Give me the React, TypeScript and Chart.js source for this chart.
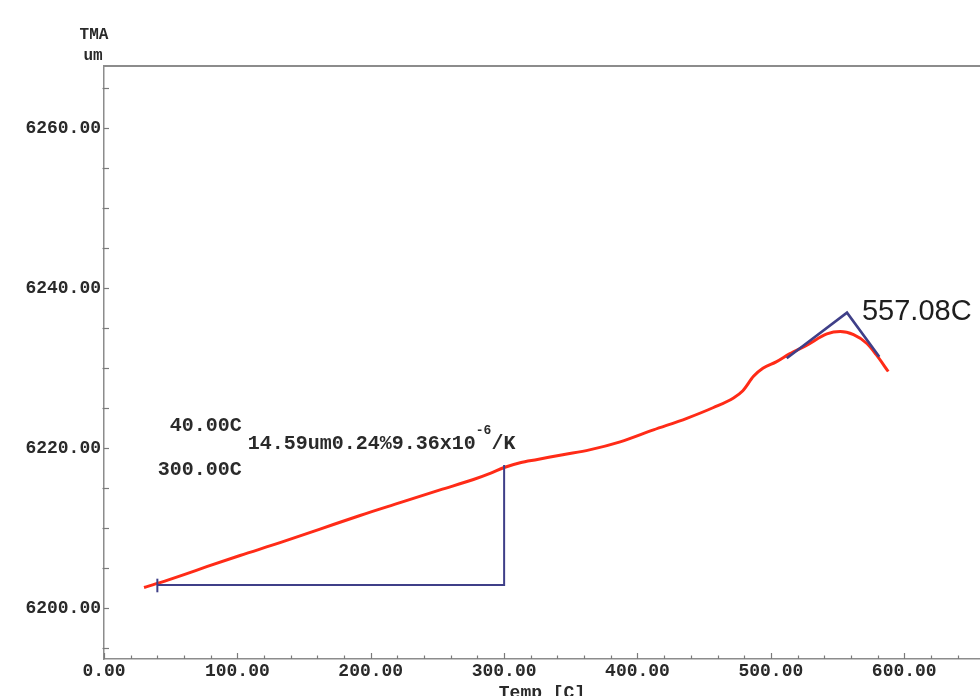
import React, { useEffect, useRef } from 'react';
import { Chart, registerables } from 'chart.js';

Chart.register(...registerables);

// ---- data ----
const tempC = [30, 42, 60, 77, 102, 132, 162, 192, 222, 252, 277, 290, 300, 312, 325, 344, 364, 387, 412, 437, 457, 472, 479, 487, 494, 504, 514, 527, 542, 552, 562, 572, 579, 588];
const tmaUm = [6202.6, 6203.2, 6204.2, 6205.2, 6206.6, 6208.2, 6209.9, 6211.6, 6213.2, 6214.8, 6216.1, 6216.9, 6217.6, 6218.2, 6218.6, 6219.2, 6219.8, 6220.8, 6222.3, 6223.75, 6225.1, 6226.3, 6227.2, 6229.0, 6230.0, 6230.8, 6231.8, 6232.9, 6234.3, 6234.6, 6234.2, 6233.1, 6231.7, 6229.6];

const xTickValues = [0, 100, 200, 300, 400, 500, 600];
const yTickValues = [6200, 6220, 6240, 6260];
const xMinorStep = 20;
const yMinorStep = 5;
const X_MIN = 0;
const X_MAX = 656.8;
const Y_MIN = 6193.66;
const Y_MAX = 6267.79;

// analysis range (40 C .. 300 C)
const rangeLineT = [40, 300, 300];
const rangeLineV = [6202.9, 6202.9, 6217.9];
const startMarkT = [40, 40];
const startMarkV = [6202.0, 6203.7];

// onset tangents (557.08 C)
const onsetT = [511.9, 557.08, 581.3];
const onsetV = [6231.25, 6236.95, 6231.45];

// annotation texts (anchored in data units)
const rangeLabels = ['40.00C', '300.00C'];
const rangeLabelT = [49.3, 40.3];
const rangeLabelV = [6222.85, 6217.35];
const resultParts = ['14.59um0.24%9.36x10', '-6', '/K'];
const resultT = 107.8;
const resultV = 6220.6;
const peakLabel = '557.08C';
const peakLabelT = 568.3;
const peakLabelV = 6237.0;

const MONO = "'Liberation Mono', 'DejaVu Sans Mono', monospace";
const AXIS_COLOR = '#8c8c8c';
const TEXT_COLOR = '#2a2a2a';
const BLUE = '#3f3f88';
const RED = '#ff2b17';

const pts = (xs: number[], ys: number[]) => xs.map((x, i) => ({ x, y: ys[i] }));

const decorPlugin = {
  id: 'decor',
  afterDraw(chart: any) {
    const { ctx, chartArea } = chart;
    const x = chart.scales.x;
    const y = chart.scales.y;
    ctx.save();
    // top frame line
    ctx.strokeStyle = AXIS_COLOR;
    ctx.lineWidth = 2;
    const topY = y.getPixelForValue(Y_MAX);
    ctx.beginPath();
    ctx.moveTo(chartArea.left, topY);
    ctx.lineTo(chartArea.right, topY);
    ctx.stroke();

    // x tick marks (inside)
    ctx.lineWidth = 1.2;
    ctx.strokeStyle = '#7a7a7a';
    const bottom = chartArea.bottom;
    for (let v = X_MIN; v <= X_MAX; v += xMinorStep) {
      const px = Math.round(x.getPixelForValue(v)) + 0.5;
      const major = v % 100 === 0;
      ctx.beginPath();
      ctx.moveTo(px, bottom);
      ctx.lineTo(px, bottom - (major ? 6 : 3.5));
      ctx.stroke();
    }
    // y tick marks
    const left = chartArea.left;
    for (let v = 6195; v <= Y_MAX; v += yMinorStep) {
      const py = Math.round(y.getPixelForValue(v)) + 0.5;
      const major = v % 20 === 0;
      ctx.beginPath();
      ctx.moveTo(left - (major ? 0 : 1.5), py);
      ctx.lineTo(left + 5, py);
      ctx.stroke();
    }

    // axis titles
    ctx.fillStyle = TEXT_COLOR;
    ctx.font = `bold 16px ${MONO}`;
    ctx.textAlign = 'center';
    ctx.textBaseline = 'alphabetic';
    ctx.fillText('TMA', 94, 39);
    ctx.fillText('um', 93, 60);
    ctx.font = `bold 18px ${MONO}`;
    ctx.fillText('Temp [C]', (chartArea.left + chartArea.right) / 2, 698);

    // range labels
    ctx.textAlign = 'left';
    ctx.textBaseline = 'middle';
    ctx.font = `bold 20px ${MONO}`;
    rangeLabels.forEach((t, i) => {
      ctx.fillText(t, x.getPixelForValue(rangeLabelT[i]), y.getPixelForValue(rangeLabelV[i]));
    });
    // result text with superscript
    let rx = x.getPixelForValue(resultT);
    const ry = y.getPixelForValue(resultV);
    ctx.font = `bold 20px ${MONO}`;
    ctx.fillText(resultParts[0], rx, ry);
    rx += ctx.measureText(resultParts[0]).width;
    ctx.font = `bold 13px ${MONO}`;
    ctx.fillText(resultParts[1], rx, ry - 13);
    rx += ctx.measureText(resultParts[1]).width;
    ctx.font = `bold 20px ${MONO}`;
    ctx.fillText(resultParts[2], rx, ry);

    // peak label
    ctx.fillStyle = '#1e1e1e';
    ctx.font = `29px 'Liberation Sans', Arial, sans-serif`;
    ctx.fillText(peakLabel, x.getPixelForValue(peakLabelT), y.getPixelForValue(peakLabelV));
    ctx.restore();
  },
};

export default function App() {
  const ref = useRef<HTMLCanvasElement | null>(null);
  useEffect(() => {
    if (!ref.current) return;
    const chart = new Chart(ref.current, {
      type: 'line',
      data: {
        datasets: [
          {
            data: pts(onsetT, onsetV),
            borderColor: BLUE,
            borderWidth: 2.6,
            pointRadius: 0,
            tension: 0,
          },
          {
            data: pts(rangeLineT, rangeLineV),
            borderColor: BLUE,
            borderWidth: 2,
            pointRadius: 0,
            tension: 0,
          },
          {
            data: pts(startMarkT, startMarkV),
            borderColor: BLUE,
            borderWidth: 2,
            pointRadius: 0,
            tension: 0,
          },
          {
            data: pts(tempC, tmaUm),
            borderColor: RED,
            borderWidth: 3,
            pointRadius: 0,
            cubicInterpolationMode: 'monotone',
          },
        ],
      },
      options: {
        responsive: false,
        animation: false,
        devicePixelRatio: 1,
        layout: { padding: { top: 66, left: 0, right: 0, bottom: 0 } },
        plugins: {
          legend: { display: false },
          tooltip: { enabled: false },
          title: { display: false },
        },
        scales: {
          x: {
            type: 'linear',
            min: X_MIN,
            max: X_MAX,
            afterFit(s: any) {
              s.height = 37;
            },
            afterBuildTicks(s: any) {
              s.ticks = xTickValues.map((v) => ({ value: v }));
            },
            grid: { display: false, drawTicks: false },
            border: { display: true, color: AXIS_COLOR, width: 1.5 },
            ticks: {
              padding: 2,
              color: TEXT_COLOR,
              autoSkip: false,
              maxRotation: 0,
              font: { family: MONO, size: 18, weight: 'bold' },
              callback: (v: any) => Number(v).toFixed(2),
            },
          },
          y: {
            type: 'linear',
            min: Y_MIN,
            max: Y_MAX,
            afterFit(s: any) {
              s.width = 104;
            },
            afterBuildTicks(s: any) {
              s.ticks = yTickValues.map((v) => ({ value: v }));
            },
            grid: { display: false, drawTicks: false },
            border: { display: true, color: AXIS_COLOR, width: 1.5 },
            ticks: {
              padding: 3,
              color: TEXT_COLOR,
              autoSkip: false,
              font: { family: MONO, size: 18, weight: 'bold' },
              callback: (v: any) => Number(v).toFixed(2),
            },
          },
        },
      },
      plugins: [decorPlugin],
    } as any);
    return () => chart.destroy();
  }, []);
  return (
    <div style={{ position: 'fixed', left: 0, top: 0, width: 980, height: 696, background: '#fff' }}>
      <canvas ref={ref} width={980} height={696} style={{ display: 'block', width: 980, height: 696 }} />
    </div>
  );
}
